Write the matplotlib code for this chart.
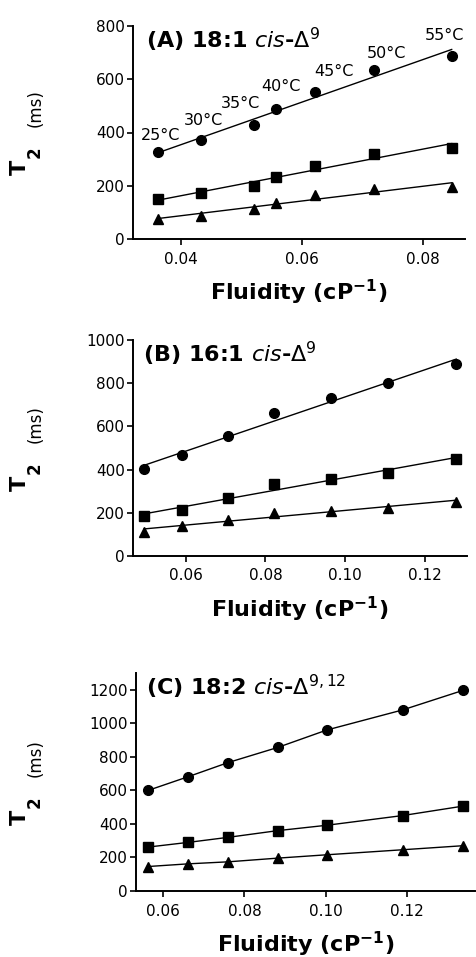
import numpy as np
import matplotlib
matplotlib.use("Agg")
import matplotlib.pyplot as plt

# 18:1 cis-delta9
fluid_a = [0.0362, 0.0434, 0.0520, 0.0557, 0.0622, 0.0719, 0.0847]
circ_a = [325, 371, 428, 490, 553, 634, 687]
sq_a = [149, 171, 199, 233, 275, 321, 342]
tri_a = [76, 87, 114, 137, 164, 187, 196]
temps = ["25°C", "30°C", "35°C", "40°C", "45°C", "50°C", "55°C"]

# 16:1 cis-delta9
fluid_b = [0.0496, 0.0592, 0.0705, 0.0821, 0.0964, 0.1106, 0.1278]
circ_b = [402, 467, 555, 660, 730, 802, 889]
sq_b = [185, 215, 270, 335, 355, 386, 451]
tri_b = [111, 138, 168, 201, 209, 224, 250]

# 18:2 cis-delta9,12
fluid_c = [0.0563, 0.0662, 0.0760, 0.0882, 0.1003, 0.1190, 0.1338]
circ_c = [600, 682, 766, 856, 960, 1080, 1196]
sq_c = [262, 290, 320, 360, 392, 450, 506]
tri_c = [146, 162, 174, 196, 216, 246, 270]

W, H = 476, 957
fig = plt.figure(figsize=(W / 100, H / 100), dpi=100)


def make_ax(l, r, t, b):
    ax = fig.add_axes([l / W, 1 - b / H, (r - l) / W, (b - t) / H])
    for s in ["top", "right"]:
        ax.spines[s].set_visible(False)
    for s in ["left", "bottom"]:
        ax.spines[s].set_linewidth(1.4)
    ax.tick_params(direction="out", length=4, width=1.2, labelsize=11)
    ax.tick_params(axis="x", pad=5)
    ax.tick_params(axis="y", pad=2)
    return ax


def ylabel(ax):
    pos = ax.get_position()
    yc = (pos.y0 + pos.y1) / 2
    fig.text(20 / W, yc - 35 / H, "T", rotation=90, fontsize=16,
             fontweight="bold", ha="center", va="center")
    fig.text(35 / W, yc - 20 / H, "2", rotation=90, fontsize=12,
             fontweight="bold", ha="center", va="center")
    fig.text(36 / W, yc + 24 / H, "(ms)", rotation=90, fontsize=12,
             ha="center", va="center")


def series(ax, x, ys, fit=True):
    xs = np.array(x)
    for y, m, ms in zip(ys, ["o", "s", "^"], [7, 6.5, 6.5]):
        y = np.array(y)
        ax.plot(xs, y, ls="none", marker=m, ms=ms, color="black")
        if fit:
            k, c = np.polyfit(xs, y, 1)
            ax.plot(xs[[0, -1]], k * xs[[0, -1]] + c, color="black", lw=1.0)
        else:
            ax.plot(xs, y, color="black", lw=1.0)


def xlabel(ax):
    ax.set_xlabel(r"Fluidity (cP$^{\mathbf{-1}}$)", fontsize=16,
                  fontweight="bold", labelpad=8)


# (A)
ax = make_ax(133, 465, 26, 239)
series(ax, fluid_a, [circ_a, sq_a, tri_a])
ax.set_xlim(0.0321, 0.0869)
ax.set_ylim(0, 800)
ax.set_xticks([0.04, 0.06, 0.08])
ax.set_xticklabels(["0.04", "0.06", "0.08"])
ax.set_yticks(range(0, 801, 200))
offs = [(3, 17), (2, 20), (-13, 22), (5, 22), (19, 20), (12, 17), (-7, 21)]
for x, y, t, o in zip(fluid_a, circ_a, temps, offs):
    ax.annotate(t, (x, y), xytext=o, textcoords="offset pixels",
                ha="center", va="center", fontsize=11.5)
ax.text(0.04, 1.0, r"(A) 18:1 $\it{cis}$-$\Delta^{9}$", transform=ax.transAxes,
        fontsize=16, fontweight="bold", va="top", ha="left")
xlabel(ax)
ylabel(ax)

# (B)
ax = make_ax(133, 467, 340, 556)
series(ax, fluid_b, [circ_b, sq_b, tri_b])
ax.set_xlim(0.0468, 0.1305)
ax.set_ylim(0, 1000)
ax.set_xticks([0.06, 0.08, 0.10, 0.12])
ax.set_xticklabels(["0.06", "0.08", "0.10", "0.12"])
ax.set_yticks(range(0, 1001, 200))
ax.text(0.03, 1.0, r"(B) 16:1 $\it{cis}$-$\Delta^{9}$", transform=ax.transAxes,
        fontsize=16, fontweight="bold", va="top", ha="left")
xlabel(ax)
ylabel(ax)

# (C)
ax = make_ax(136, 475, 673, 891)
series(ax, fluid_c, [circ_c, sq_c, tri_c], fit=False)
ax.set_xlim(0.0533, 0.1368)
ax.set_ylim(0, 1300)
ax.set_xticks([0.06, 0.08, 0.10, 0.12])
ax.set_xticklabels(["0.06", "0.08", "0.10", "0.12"])
ax.set_yticks(range(0, 1201, 200))
ax.text(0.03, 1.0, r"(C) 18:2 $\it{cis}$-$\Delta^{9,12}$", transform=ax.transAxes,
        fontsize=16, fontweight="bold", va="top", ha="left")
xlabel(ax)
ylabel(ax)

fig.savefig("out.png", dpi=100)
